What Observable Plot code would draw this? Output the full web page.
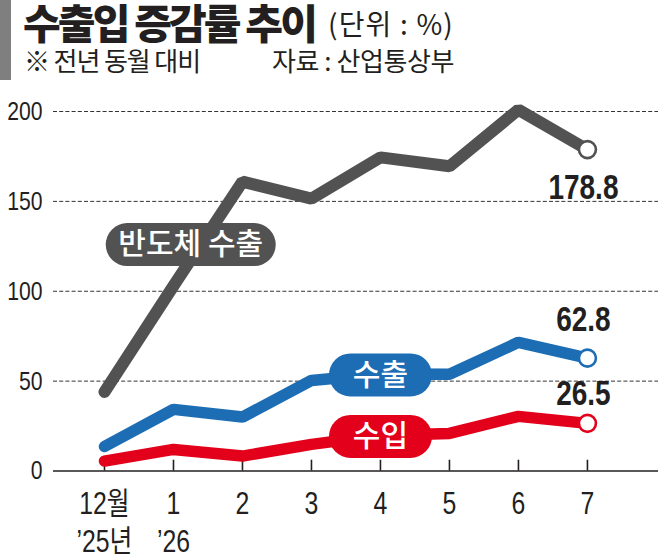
<!DOCTYPE html>
<html><head><meta charset="utf-8">
<script src="https://cdn.jsdelivr.net/npm/d3@7"></script>
<script src="https://cdn.jsdelivr.net/npm/@observablehq/plot@0.6"></script>
<style>
body{margin:0;background:#fff;width:658px;height:554px;overflow:hidden;position:relative;font-family:"Noto Sans CJK KR",sans-serif;color:#231f20}
#bar{position:absolute;left:0;top:0;width:11px;height:80px;background:#7f7f7f}
.t{position:absolute;white-space:nowrap}
#title{left:23px;top:1px;height:40px;line-height:40px;font-size:41px;font-weight:900}
#unit{left:328px;top:5px;height:36px;line-height:36px;font-size:28px;font-weight:400}
.sub{top:46px;height:28px;line-height:28px;font-size:26px}
#chart{position:absolute;left:0;top:90px}
</style></head><body>
<div id="bar"></div>
<div class="t" id="title">수출입 증감률 추이</div>
<div class="t" id="unit">(단위 : %)</div>
<div class="t sub" id="sub1" style="left:24px">※ 전년 동월 대비</div>
<div class="t sub" id="sub2" style="left:272px">자료 : 산업통상부</div>
<div id="chart"></div>
<script>
const months = ["12월\n’25년", "1\n’26", "2", "3", "4", "5", "6", "7"];
const semiconductor = [44, 103, 161, 151.5, 174.5, 169.5, 201, 178.8];
const exportsRate = [13.6, 34.3, 30, 50.4, 54, 53.8, 71.6, 62.8];
const importsRate = [5.5, 12, 8.3, 14.8, 19.8, 20.9, 30.4, 26.5];
const seriesNames = ["반도체 수출", "수출", "수입"];
const yTicks = [0, 50, 100, 150, 200];
const gridTicks = [50, 100, 150, 200];
// annotation anchor for the semiconductor label (data coords)
const semiLabelAt = {x: 1.25, y: 126.5};

// fit header texts to their widths in the reference layout
function fit(id, W) {
  const el = document.getElementById(id);
  el.style.letterSpacing = "0px";
  const w0 = el.getBoundingClientRect().width;
  const n = [...el.textContent].length;
  el.style.letterSpacing = ((W - w0) / n) + "px";
}
fit("title", 292); fit("unit", 126); fit("sub1", 176); fit("sub2", 182);

const idx = months.map((_, i) => i);
const series = [
  {name: seriesNames[0], values: semiconductor, color: "#525252", width: 12, dy: 38, pillW: 170},
  {name: seriesNames[1], values: exportsRate, color: "#1d6db5", width: 11.5, dy: -38, pillW: 103},
  {name: seriesNames[2], values: importsRate, color: "#e3001b", width: 11.5, dy: -30, pillW: 103}
];
const last = months.length - 1;
const pillLabels = [
  {name: seriesNames[0], x: semiLabelAt.x, y: semiLabelAt.y, s: series[0]},
  {name: seriesNames[1], x: 4, y: exportsRate[4], s: series[1]},
  {name: seriesNames[2], x: 4, y: importsRate[4], s: series[2]}
];
const narrow = "'Liberation Sans','Noto Sans CJK KR',sans-serif";

const marks = [
  Plot.ruleY(gridTicks, {stroke: "#333", strokeWidth: 1, strokeDasharray: "4,2.2"}),
  Plot.ruleY([0], {stroke: "#231f20", strokeWidth: 1.6}),
  Plot.ruleX(idx, {x: d => d, y1: 0, y2: 6, stroke: "#231f20", strokeWidth: 1.6}),
  Plot.axisY(yTicks, {tickSize: 0, tickPadding: 11, fontSize: 26.5, label: null, fontFamily: narrow}),
  Plot.axisX(idx, {tickSize: 0, tickPadding: 17, fontSize: 31, lineHeight: 1.2, label: null, tickFormat: i => months[i], fontFamily: narrow})
];
for (const s of series) {
  marks.push(Plot.line(idx, {x: i => i, y: i => s.values[i], stroke: s.color, strokeWidth: s.width, strokeLinecap: "round", strokeLinejoin: "miter"}));
}
for (const s of series) {
  marks.push(Plot.dot([last], {x: i => i, y: i => s.values[i], r: 8.5, fill: "white", stroke: s.color, strokeWidth: 2.6}));
  marks.push(Plot.text([last], {x: i => i, y: i => s.values[i], text: i => String(s.values[i]), dx: -4, dy: s.dy, fontSize: 35, fontWeight: "bold", fill: "#231f20", fontFamily: narrow, className: "value"}));
}
marks.push(Plot.text(pillLabels, {x: "x", y: "y", text: "name", fill: "white", fontSize: 30, fontWeight: 500, fontFamily: "'Noto Sans CJK KR',sans-serif", className: "pill", dy: 1}));

const chart = Plot.plot({
  width: 658, height: 464,
  marginTop: 21, marginBottom: 83.5, marginLeft: 53, marginRight: 0,
  x: {type: "linear", domain: [-0.739, 8.03]},
  y: {domain: [0, 200]},
  style: {color: "#231f20", background: "white", overflow: "visible"},
  marks
});
document.getElementById("chart").append(chart);

// condensed look: squeeze numeric/axis labels horizontally around their anchor
d3.select(chart).selectAll('g[aria-label="y-axis tick label"] text, g[aria-label="x-axis tick label"] text, g.value text')
  .each(function() {
    const t = this.getAttribute("transform") || "";
    this.setAttribute("transform", t + " scale(0.8,1)");
  });

// rounded pill backgrounds behind the label texts
const xs = chart.scale("x"), ys = chart.scale("y");
d3.select(chart).selectAll("g.pill text").each(function(d, k) {
  const p = pillLabels[k];
  const w = p.s.pillW, h = 43;
  const cx = xs.apply(p.x), cy = ys.apply(p.y);
  d3.select(this.parentNode).insert("rect", () => this)
    .attr("x", cx - w / 2).attr("y", cy - h / 2)
    .attr("width", w).attr("height", h)
    .attr("rx", h / 2).attr("fill", p.s.color);
});
</script>
</body></html>
